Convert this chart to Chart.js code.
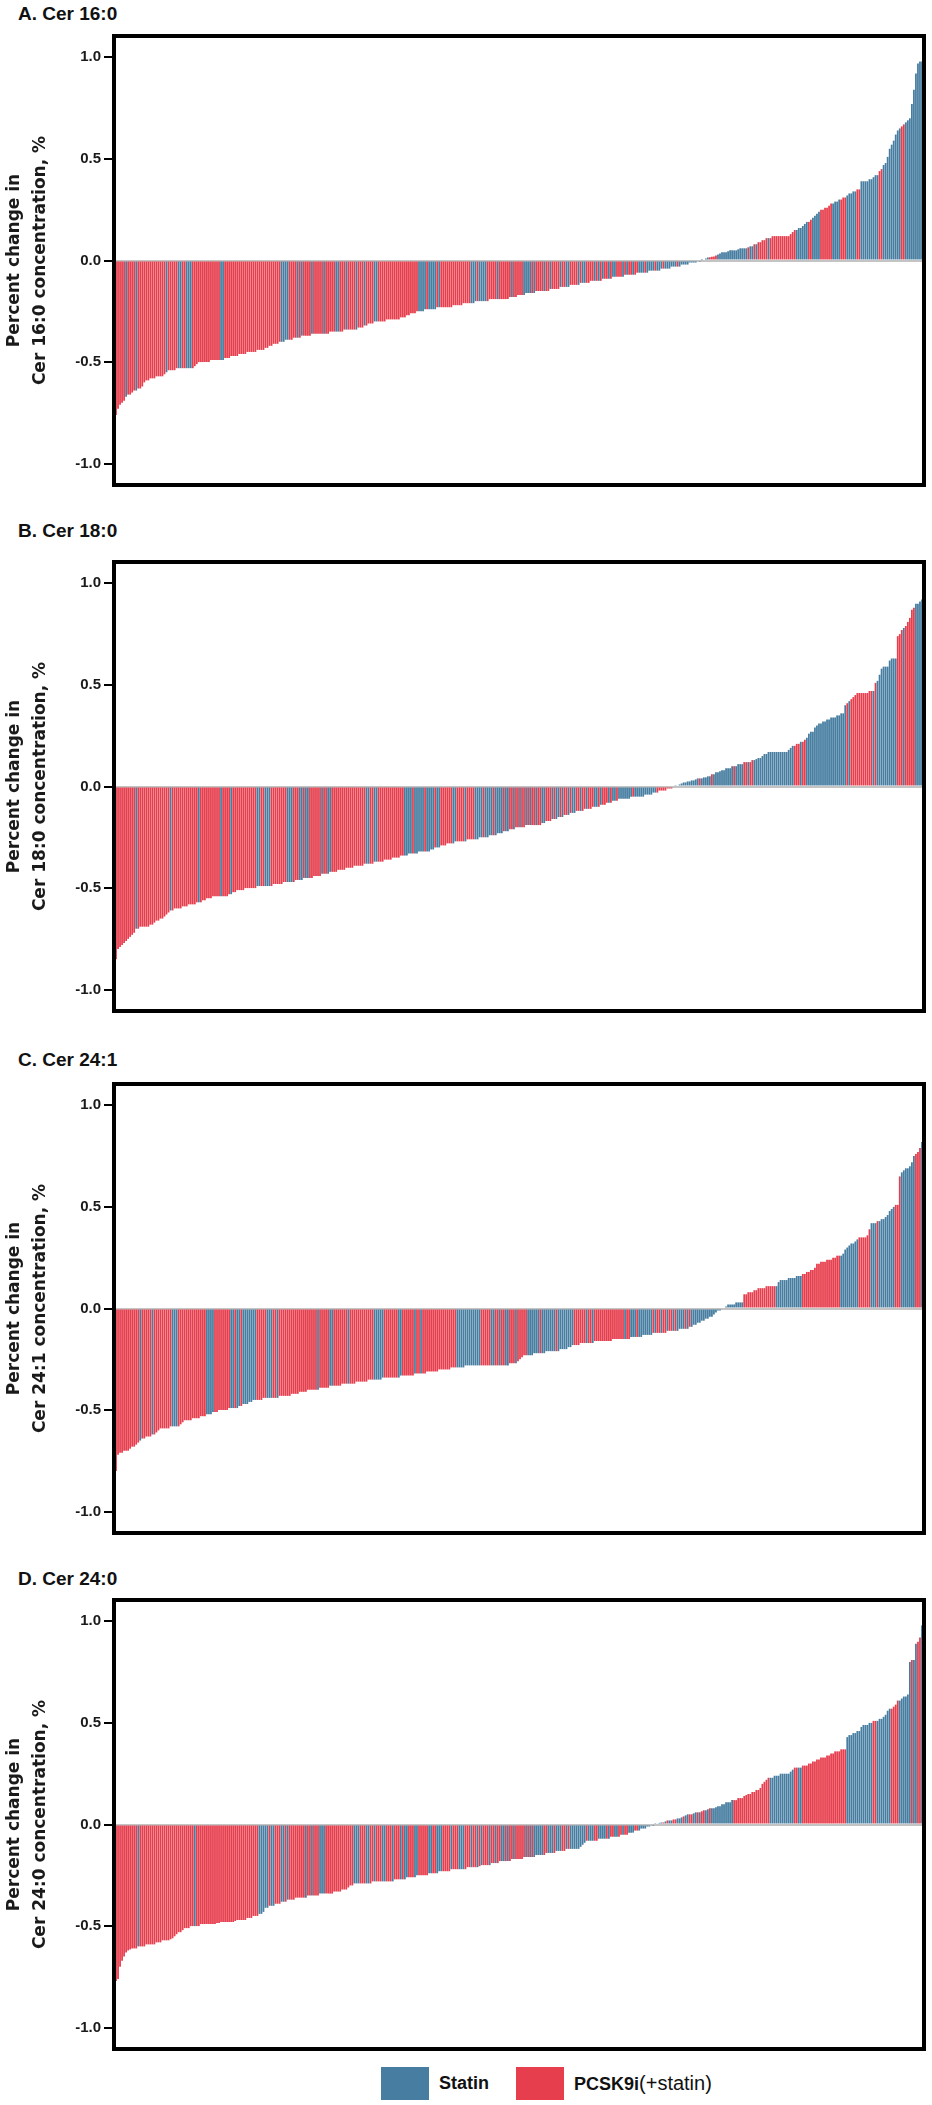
<!DOCTYPE html>
<html>
<head>
<meta charset="utf-8">
<title>Ceramide waterfall</title>
<script src="https://cdn.jsdelivr.net/npm/chart.js@4.4.1/dist/chart.umd.min.js"></script>
<style>
  body { margin: 0; background: #fff; }
  #page { position: relative; width: 932px; height: 2105px; overflow: hidden; }
  .panel { position: absolute; left: 0; width: 932px; height: 496px; }
  .ptitle { position: absolute; left: 18px; font: bold 19px "Liberation Sans", Arial, sans-serif; line-height: 22px; color: #111; }
  #legend { position: absolute; top: 2067px; left: 381px; height: 33px; display: flex; align-items: center; font-family: "Liberation Sans", Arial, sans-serif; color: #111; }
  #legend .sw { width: 48px; height: 33px; display: inline-block; }
  #legend .lab { margin-left: 10px; margin-right: 27px; font-weight: bold; font-size: 18px; }
  #legend .thin { font-weight: normal; font-size: 20px; }
</style>
</head>
<body>
<div id="page">
  <div class="ptitle" style="top:3px">A. Cer 16:0</div>
  <div class="panel" style="top:0px"><canvas id="chartA" width="932" height="496"></canvas></div>
  <div class="ptitle" style="top:520px">B. Cer 18:0</div>
  <div class="panel" style="top:526px"><canvas id="chartB" width="932" height="496"></canvas></div>
  <div class="ptitle" style="top:1049px">C. Cer 24:1</div>
  <div class="panel" style="top:1048px"><canvas id="chartC" width="932" height="496"></canvas></div>
  <div class="ptitle" style="top:1568px">D. Cer 24:0</div>
  <div class="panel" style="top:1564px"><canvas id="chartD" width="932" height="496"></canvas></div>
  <div id="legend">
    <span class="sw" style="background:#467da0"></span><span class="lab">Statin</span>
    <span class="sw" style="background:#e63e4d"></span><span class="lab">PCSK9i<span class="thin">(+statin)</span></span>
  </div>
</div>
<script>
// tick labels on the y axis
const yTicks = [-1.0, -0.5, 0.0, 0.5, 1.0];

// sorted per-patient change, one bar each
const cer160 = [
  -0.76,-0.73,-0.71,-0.70,-0.69,-0.67,-0.66,-0.66,-0.65,-0.64,-0.64,-0.63,-0.63,-0.62,-0.60,-0.59,-0.59,-0.58,-0.58,-0.58,
  -0.57,-0.57,-0.57,-0.57,-0.56,-0.55,-0.54,-0.54,-0.54,-0.54,-0.53,-0.53,-0.53,-0.53,-0.53,-0.53,-0.53,-0.53,-0.53,-0.52,
  -0.51,-0.50,-0.50,-0.50,-0.50,-0.50,-0.50,-0.49,-0.49,-0.49,-0.49,-0.49,-0.49,-0.49,-0.48,-0.48,-0.48,-0.47,-0.47,-0.47,
  -0.47,-0.46,-0.46,-0.46,-0.46,-0.45,-0.45,-0.45,-0.45,-0.45,-0.44,-0.44,-0.44,-0.44,-0.43,-0.43,-0.42,-0.42,-0.41,-0.41,
  -0.41,-0.40,-0.40,-0.40,-0.39,-0.39,-0.39,-0.39,-0.38,-0.38,-0.38,-0.38,-0.37,-0.37,-0.37,-0.37,-0.37,-0.36,-0.36,-0.36,
  -0.36,-0.36,-0.36,-0.36,-0.36,-0.36,-0.35,-0.35,-0.35,-0.35,-0.35,-0.35,-0.35,-0.34,-0.34,-0.34,-0.34,-0.34,-0.34,-0.34,
  -0.33,-0.33,-0.33,-0.32,-0.32,-0.31,-0.31,-0.31,-0.30,-0.30,-0.30,-0.30,-0.30,-0.30,-0.29,-0.29,-0.29,-0.29,-0.29,-0.29,
  -0.29,-0.28,-0.28,-0.28,-0.27,-0.27,-0.26,-0.26,-0.26,-0.25,-0.25,-0.25,-0.25,-0.24,-0.24,-0.24,-0.24,-0.24,-0.24,-0.23,
  -0.23,-0.23,-0.23,-0.23,-0.23,-0.23,-0.23,-0.22,-0.22,-0.22,-0.22,-0.22,-0.21,-0.21,-0.21,-0.21,-0.21,-0.21,-0.20,-0.20,
  -0.20,-0.20,-0.20,-0.20,-0.20,-0.19,-0.19,-0.19,-0.19,-0.19,-0.19,-0.19,-0.19,-0.19,-0.19,-0.18,-0.18,-0.18,-0.18,-0.17,
  -0.17,-0.17,-0.17,-0.16,-0.16,-0.16,-0.16,-0.16,-0.15,-0.15,-0.15,-0.15,-0.15,-0.15,-0.15,-0.14,-0.14,-0.14,-0.14,-0.14,
  -0.13,-0.13,-0.13,-0.13,-0.13,-0.12,-0.12,-0.12,-0.12,-0.12,-0.11,-0.11,-0.11,-0.11,-0.11,-0.10,-0.10,-0.10,-0.10,-0.10,
  -0.10,-0.09,-0.09,-0.09,-0.09,-0.09,-0.08,-0.08,-0.08,-0.08,-0.08,-0.08,-0.07,-0.07,-0.07,-0.07,-0.07,-0.07,-0.06,-0.06,
  -0.06,-0.06,-0.06,-0.06,-0.05,-0.05,-0.05,-0.05,-0.05,-0.05,-0.04,-0.04,-0.04,-0.04,-0.04,-0.03,-0.03,-0.03,-0.03,-0.03,
  -0.02,-0.02,-0.02,-0.02,-0.01,-0.01,-0.01,-0.01,-0.005,-0.003,0.002,0.005,0.01,0.015,0.016,0.018,0.02,0.025,0.03,0.035,
  0.04,0.04,0.04,0.045,0.05,0.05,0.05,0.05,0.055,0.06,0.06,0.06,0.06,0.065,0.07,0.07,0.08,0.08,0.09,0.09,
  0.10,0.10,0.11,0.11,0.11,0.12,0.12,0.12,0.12,0.12,0.12,0.12,0.12,0.12,0.13,0.14,0.15,0.15,0.16,0.16,
  0.17,0.18,0.19,0.19,0.20,0.21,0.22,0.23,0.24,0.25,0.25,0.26,0.26,0.27,0.28,0.28,0.29,0.29,0.30,0.30,
  0.31,0.31,0.32,0.33,0.33,0.34,0.34,0.35,0.35,0.39,0.39,0.39,0.39,0.40,0.40,0.41,0.42,0.42,0.44,0.45,
  0.47,0.48,0.51,0.55,0.57,0.59,0.62,0.64,0.65,0.66,0.67,0.68,0.69,0.70,0.77,0.84,0.92,0.97,0.98,0.98
];
const cer180 = [
  -0.85,-0.80,-0.79,-0.78,-0.77,-0.76,-0.75,-0.74,-0.73,-0.72,-0.70,-0.70,-0.69,-0.69,-0.69,-0.69,-0.69,-0.68,-0.68,-0.67,
  -0.66,-0.66,-0.65,-0.65,-0.64,-0.63,-0.62,-0.61,-0.61,-0.60,-0.60,-0.60,-0.60,-0.59,-0.59,-0.59,-0.58,-0.58,-0.58,-0.58,
  -0.57,-0.57,-0.57,-0.56,-0.56,-0.55,-0.55,-0.55,-0.54,-0.54,-0.54,-0.54,-0.54,-0.54,-0.54,-0.54,-0.53,-0.53,-0.52,-0.52,
  -0.51,-0.51,-0.51,-0.51,-0.50,-0.50,-0.50,-0.50,-0.50,-0.50,-0.49,-0.49,-0.49,-0.49,-0.49,-0.49,-0.49,-0.49,-0.48,-0.48,
  -0.48,-0.48,-0.48,-0.47,-0.47,-0.47,-0.47,-0.47,-0.47,-0.46,-0.46,-0.46,-0.46,-0.45,-0.45,-0.45,-0.45,-0.45,-0.44,-0.44,
  -0.44,-0.44,-0.43,-0.43,-0.43,-0.43,-0.42,-0.42,-0.42,-0.42,-0.41,-0.41,-0.41,-0.41,-0.40,-0.40,-0.40,-0.40,-0.39,-0.39,
  -0.39,-0.39,-0.39,-0.38,-0.38,-0.38,-0.38,-0.38,-0.37,-0.37,-0.37,-0.37,-0.37,-0.36,-0.36,-0.36,-0.36,-0.35,-0.35,-0.35,
  -0.35,-0.34,-0.34,-0.34,-0.34,-0.33,-0.33,-0.33,-0.33,-0.33,-0.32,-0.32,-0.32,-0.32,-0.32,-0.32,-0.31,-0.31,-0.30,-0.30,
  -0.30,-0.29,-0.29,-0.29,-0.28,-0.28,-0.28,-0.28,-0.27,-0.27,-0.27,-0.27,-0.27,-0.27,-0.26,-0.26,-0.26,-0.26,-0.26,-0.26,
  -0.25,-0.25,-0.25,-0.25,-0.25,-0.24,-0.24,-0.24,-0.24,-0.23,-0.23,-0.23,-0.22,-0.22,-0.22,-0.21,-0.21,-0.21,-0.20,-0.20,
  -0.20,-0.20,-0.20,-0.19,-0.19,-0.19,-0.19,-0.19,-0.19,-0.19,-0.19,-0.18,-0.18,-0.17,-0.17,-0.17,-0.16,-0.16,-0.16,-0.15,
  -0.15,-0.15,-0.14,-0.14,-0.14,-0.13,-0.13,-0.13,-0.12,-0.12,-0.12,-0.12,-0.11,-0.11,-0.11,-0.11,-0.10,-0.10,-0.10,-0.10,
  -0.09,-0.09,-0.09,-0.08,-0.08,-0.08,-0.07,-0.07,-0.07,-0.06,-0.06,-0.06,-0.06,-0.06,-0.06,-0.05,-0.05,-0.05,-0.05,-0.05,
  -0.05,-0.05,-0.04,-0.04,-0.04,-0.04,-0.03,-0.03,-0.03,-0.02,-0.02,-0.02,-0.02,-0.01,-0.01,-0.01,-0.005,0.003,0.005,0.01,
  0.015,0.02,0.02,0.025,0.025,0.03,0.03,0.035,0.04,0.04,0.04,0.045,0.045,0.05,0.05,0.06,0.06,0.07,0.07,0.075,
  0.08,0.08,0.09,0.09,0.09,0.10,0.10,0.10,0.11,0.11,0.11,0.12,0.12,0.12,0.12,0.13,0.13,0.135,0.14,0.14,
  0.15,0.16,0.16,0.17,0.17,0.17,0.17,0.17,0.17,0.17,0.17,0.17,0.17,0.18,0.19,0.20,0.20,0.21,0.21,0.22,
  0.22,0.23,0.24,0.26,0.27,0.27,0.29,0.30,0.31,0.31,0.32,0.32,0.33,0.33,0.34,0.34,0.34,0.35,0.35,0.36,
  0.36,0.40,0.41,0.42,0.43,0.44,0.45,0.46,0.46,0.46,0.46,0.46,0.46,0.47,0.47,0.47,0.51,0.52,0.55,0.58,
  0.59,0.59,0.59,0.62,0.63,0.63,0.63,0.74,0.75,0.77,0.78,0.79,0.81,0.83,0.87,0.88,0.90,0.90,0.91,0.92
];
const cer241 = [
  -0.80,-0.72,-0.71,-0.71,-0.70,-0.70,-0.70,-0.69,-0.68,-0.68,-0.67,-0.66,-0.65,-0.64,-0.64,-0.63,-0.63,-0.63,-0.62,-0.62,
  -0.61,-0.60,-0.59,-0.59,-0.59,-0.59,-0.59,-0.58,-0.58,-0.58,-0.58,-0.58,-0.57,-0.56,-0.55,-0.55,-0.55,-0.55,-0.54,-0.54,
  -0.54,-0.54,-0.53,-0.53,-0.53,-0.52,-0.52,-0.52,-0.51,-0.51,-0.51,-0.50,-0.50,-0.50,-0.50,-0.50,-0.49,-0.49,-0.49,-0.49,
  -0.49,-0.48,-0.48,-0.47,-0.47,-0.47,-0.46,-0.46,-0.45,-0.45,-0.45,-0.45,-0.45,-0.44,-0.44,-0.44,-0.44,-0.44,-0.44,-0.44,
  -0.44,-0.43,-0.43,-0.43,-0.43,-0.43,-0.43,-0.42,-0.42,-0.42,-0.42,-0.41,-0.41,-0.41,-0.41,-0.40,-0.40,-0.40,-0.40,-0.40,
  -0.40,-0.39,-0.39,-0.39,-0.39,-0.39,-0.38,-0.38,-0.38,-0.38,-0.38,-0.38,-0.37,-0.37,-0.37,-0.37,-0.37,-0.37,-0.37,-0.36,
  -0.36,-0.36,-0.36,-0.36,-0.36,-0.35,-0.35,-0.35,-0.35,-0.35,-0.35,-0.35,-0.34,-0.34,-0.34,-0.34,-0.34,-0.34,-0.34,-0.34,
  -0.34,-0.33,-0.33,-0.33,-0.33,-0.33,-0.33,-0.33,-0.32,-0.32,-0.32,-0.32,-0.32,-0.32,-0.31,-0.31,-0.31,-0.31,-0.31,-0.31,
  -0.30,-0.30,-0.30,-0.30,-0.30,-0.30,-0.29,-0.29,-0.29,-0.29,-0.29,-0.29,-0.29,-0.28,-0.28,-0.28,-0.28,-0.28,-0.28,-0.28,
  -0.28,-0.28,-0.28,-0.28,-0.28,-0.28,-0.28,-0.28,-0.28,-0.28,-0.28,-0.28,-0.28,-0.28,-0.28,-0.27,-0.27,-0.27,-0.27,-0.26,
  -0.25,-0.24,-0.23,-0.23,-0.23,-0.23,-0.23,-0.22,-0.22,-0.22,-0.22,-0.22,-0.22,-0.21,-0.21,-0.21,-0.21,-0.21,-0.21,-0.21,
  -0.20,-0.20,-0.20,-0.20,-0.19,-0.19,-0.18,-0.18,-0.18,-0.18,-0.17,-0.17,-0.17,-0.17,-0.17,-0.17,-0.17,-0.16,-0.16,-0.16,
  -0.16,-0.16,-0.16,-0.16,-0.16,-0.16,-0.15,-0.15,-0.15,-0.15,-0.15,-0.15,-0.15,-0.15,-0.15,-0.14,-0.14,-0.14,-0.14,-0.14,
  -0.14,-0.13,-0.13,-0.13,-0.13,-0.13,-0.12,-0.12,-0.12,-0.12,-0.12,-0.12,-0.12,-0.11,-0.11,-0.11,-0.11,-0.11,-0.11,-0.10,
  -0.10,-0.10,-0.10,-0.10,-0.09,-0.09,-0.08,-0.08,-0.07,-0.07,-0.06,-0.06,-0.05,-0.05,-0.04,-0.04,-0.03,-0.02,-0.01,-0.01,
  -0.005,0.005,0.01,0.02,0.02,0.02,0.02,0.03,0.03,0.03,0.03,0.07,0.07,0.08,0.08,0.08,0.09,0.09,0.10,0.10,
  0.10,0.10,0.11,0.11,0.11,0.11,0.11,0.11,0.13,0.14,0.14,0.14,0.14,0.15,0.15,0.15,0.15,0.16,0.16,0.16,
  0.17,0.17,0.18,0.18,0.19,0.19,0.20,0.22,0.22,0.23,0.23,0.23,0.24,0.24,0.24,0.25,0.25,0.26,0.26,0.26,
  0.27,0.29,0.30,0.31,0.32,0.32,0.33,0.34,0.35,0.35,0.35,0.35,0.36,0.39,0.42,0.42,0.42,0.43,0.43,0.44,
  0.44,0.45,0.46,0.48,0.49,0.50,0.51,0.51,0.65,0.67,0.68,0.69,0.69,0.70,0.72,0.75,0.76,0.77,0.79,0.82
];
const cer240 = [
  -0.77,-0.76,-0.70,-0.67,-0.65,-0.63,-0.62,-0.615,-0.61,-0.61,-0.61,-0.60,-0.60,-0.60,-0.60,-0.59,-0.59,-0.59,-0.59,-0.59,
  -0.58,-0.58,-0.58,-0.57,-0.57,-0.57,-0.57,-0.565,-0.56,-0.55,-0.54,-0.53,-0.53,-0.52,-0.51,-0.51,-0.51,-0.50,-0.50,-0.50,
  -0.50,-0.50,-0.49,-0.49,-0.49,-0.49,-0.49,-0.49,-0.49,-0.49,-0.485,-0.485,-0.48,-0.48,-0.48,-0.48,-0.48,-0.48,-0.48,-0.475,
  -0.47,-0.47,-0.47,-0.47,-0.47,-0.46,-0.46,-0.46,-0.45,-0.45,-0.45,-0.44,-0.44,-0.43,-0.41,-0.41,-0.40,-0.40,-0.40,-0.39,
  -0.39,-0.39,-0.38,-0.38,-0.38,-0.37,-0.37,-0.37,-0.37,-0.36,-0.36,-0.36,-0.36,-0.36,-0.36,-0.35,-0.35,-0.35,-0.35,-0.35,
  -0.35,-0.34,-0.34,-0.34,-0.34,-0.34,-0.34,-0.34,-0.33,-0.33,-0.33,-0.33,-0.32,-0.32,-0.32,-0.31,-0.30,-0.30,-0.29,-0.29,
  -0.29,-0.29,-0.29,-0.29,-0.29,-0.29,-0.29,-0.28,-0.28,-0.28,-0.28,-0.28,-0.28,-0.28,-0.28,-0.28,-0.28,-0.28,-0.27,-0.27,
  -0.27,-0.27,-0.27,-0.27,-0.26,-0.26,-0.26,-0.26,-0.26,-0.25,-0.25,-0.25,-0.25,-0.25,-0.25,-0.24,-0.24,-0.24,-0.24,-0.24,
  -0.23,-0.23,-0.23,-0.23,-0.23,-0.23,-0.22,-0.22,-0.22,-0.22,-0.22,-0.22,-0.22,-0.22,-0.21,-0.21,-0.21,-0.21,-0.21,-0.21,
  -0.205,-0.20,-0.20,-0.20,-0.20,-0.20,-0.19,-0.19,-0.19,-0.19,-0.18,-0.18,-0.18,-0.18,-0.18,-0.18,-0.17,-0.17,-0.17,-0.17,
  -0.17,-0.17,-0.16,-0.16,-0.16,-0.16,-0.16,-0.16,-0.15,-0.15,-0.15,-0.15,-0.15,-0.14,-0.14,-0.14,-0.14,-0.14,-0.13,-0.13,
  -0.13,-0.13,-0.13,-0.12,-0.12,-0.12,-0.12,-0.12,-0.12,-0.12,-0.11,-0.10,-0.09,-0.08,-0.08,-0.08,-0.08,-0.08,-0.08,-0.07,
  -0.07,-0.07,-0.07,-0.07,-0.07,-0.06,-0.06,-0.06,-0.06,-0.06,-0.05,-0.05,-0.05,-0.05,-0.04,-0.04,-0.04,-0.03,-0.03,-0.03,
  -0.02,-0.02,-0.02,-0.01,-0.01,-0.005,-0.002,0.003,0.005,0.008,0.01,0.01,0.015,0.02,0.02,0.02,0.025,0.025,0.03,0.03,
  0.035,0.04,0.045,0.05,0.05,0.05,0.055,0.06,0.06,0.06,0.065,0.07,0.07,0.075,0.08,0.08,0.08,0.085,0.09,0.09,
  0.10,0.10,0.11,0.11,0.11,0.12,0.12,0.12,0.13,0.13,0.13,0.14,0.145,0.15,0.15,0.16,0.16,0.17,0.17,0.18,
  0.20,0.21,0.22,0.23,0.23,0.23,0.24,0.24,0.24,0.25,0.25,0.25,0.25,0.25,0.26,0.27,0.28,0.28,0.28,0.28,
  0.29,0.29,0.29,0.30,0.30,0.31,0.31,0.32,0.32,0.33,0.33,0.33,0.34,0.34,0.35,0.35,0.36,0.36,0.36,0.37,
  0.37,0.37,0.43,0.44,0.44,0.45,0.45,0.46,0.46,0.48,0.49,0.49,0.49,0.50,0.50,0.51,0.51,0.51,0.52,0.52,
  0.53,0.54,0.56,0.57,0.57,0.58,0.59,0.61,0.61,0.62,0.63,0.63,0.64,0.80,0.81,0.81,0.89,0.90,0.92,0.98
];

// treatment of each bar: S = statin, P = PCSK9i (+statin)
const arm160 = [
  "PPPPPSPPPPSPPPPPPPPP","PPPPPSPPPPPSSPPSSSPP","PPPPPPPPPPPPSSPPPPPP","PPPPPPPPPPPPPPPPPPPP",
  "PPSSSSPPPPSPSPPPPSPP","PPPSPPPPPSSPPPSPPPPS","PPPSPPPPSSPPPPPPPPPP","PPPPPPPPPPSSSSPSSSSP",
  "SPPPPPPPPPPPPPPPSSSP","SSSSPPPPPSPPPPPPSPPP","PPSSSSPSPPPPSPPSPPPP","SPPSSPPPPSPSSPPPPSPS",
  "PSPPSPSSPPPSPSPPSPPS","SSPSSSSPSSSPSSSSSSPS","SSSSSSSSSSSSSSPPPPSS","SSSSSSSSSSSSSPSSPSPP",
  "PPPSPPPPPPPPPPPPPSSS","SSSPPSSSSPPPPPPSSSSP","PPSSSSSPPSSSSSSSSSPP","SSSSSSSSSPPSSSSSSSSS"
].join("");
const arm180 = [
  "PPPPPPPPPPSPPPPPPPPP","PPPPPPPSPPPPPPPPPPPP","PSPPPPPPPPPPSPPPPSPP","PPPPPPPPPPSSPPSSSPPP",
  "PPPPPSSSPPPSSPSSPPPP","PPSPPSSPPPPPPPPPPPPP","PPPPSSPPSSPPPPPPPPPP","PPPSSSSPSSSSSPSSSSPS",
  "SPPPPPPSSPPPPSPPPPSS","SSPSSSSPSSSSPSSPPSPP","SPPSPSPPSPPSSPPPSPSS","PSPPSPSSPPSPPSPPPSSP",
  "SPPPSPSSPSSSSSSSPSSS","SSSSSSSSPPPPPPPPPSSS","SSSSSSSSSPSSSSSPSSSS","SSSSSSPSSSSPPSPPSSSS",
  "SSSSSSSSSSSSSSSSPPPS","PPSSSSSSSSSSSSSSSSSS","SSPSPPPPPPPPPPPSPSSS","SSSSSSSPPPSPPPPPSSSS"
].join("");
const arm241 = [
  "PPPPPPPPPPPPSPPPPPSP","PPPPPPPPSSSPPPPPPPPP","PPPPPSSSSPPPPPPPPSSP","SSPSSSSSSSPPPPPSSSPP",
  "SPPPPPPPPPPPPPPPPPPP","SPPPPPSSPPPPPPPSPPPP","PPPPPPPPSSSSSPPPPPPP","SSPPPPPPSPPSPPPPPPPP",
  "PPPPPPPPPSSSSSSSSSSS","SPPPPPSSPPSPPSSPPPSP","PPPPSSSSSSPSSSSSSSPS","SSSSSSSPPPPPPSPPSPPP",
  "PPPPPPPPPPPPSPPSSSPS","SSSSSSPSPPSPPSPPSPSS","SSPSPSSSSSSSSSSSSSSS","SSSSSSSSSSSPPPPPPPPP",
  "PPPPPPPSSSSSSSSSSSSS","PPPPPPPPPPPPPPPPPPPS","SSSSSSSSPPPPPPSSSPSS","SSSSSSPPPSSSSSSSPPPS"
].join("");
const arm240 = [
  "PPPPPPPPPPPSPPPPPPPP","PPPPPPPPPPPPPPPPPPPS","PPPPPPPPPPPPPPPPPPPP","PPPPPPPPPPPSSSSSPSSP",
  "PPSSPSPPPPPPPPSPPSPP","PSSSPPPPPPPPPPPPPPSS","SPPPSSPPSPPPSSPPPSPP","PSPSSPPPSSPPPPPSSPPS",
  "SSPPPPSPPPSSSPPPSPPS","PSPPPSPPSPPSSPSPPSPP","PPPSPSPSSSSSPPSSSPSS","SPPSPSSSSSSSSPSSSPPS",
  "SSSPSPPSSPPSPPSSSPPS","SSSSSSSSPSSPSPSSPPSS","SPSSPPSSPSPPSSPSSSSS","SSSSSSPPPPPPPPPPPPPP",
  "PPPPSSSSSSSSSSSSPPSS","PPPPPPPPPPPPPPPPPPPP","PPSSSSSSSSSSSSSPPSSS","SSSSPPPPSSSSSSPSSPPS"
].join("");

const statinColor = '#467da0';
const pcskColor = '#e63e4d';

// thick black box round the plot area
const framePlugin = {
  id: 'frame',
  afterDraw(chart) {
    const a = chart.chartArea;
    const ctx = chart.ctx;
    ctx.save();
    ctx.strokeStyle = '#000';
    ctx.lineWidth = 4;
    ctx.strokeRect(a.left - 1, a.top - 1, a.right - a.left + 2, a.bottom - a.top + 2);
    ctx.restore();
  }
};

function drawPanel(id, lipid, values, arms) {
  const colors = values.map(function (v, i) {
    return arms[i] === 'S' ? statinColor : pcskColor;
  });
  new Chart(document.getElementById(id), {
    type: 'bar',
    data: {
      labels: values.map(function (v, i) { return i + 1; }),
      datasets: [{
        data: values,
        backgroundColor: colors,
        borderWidth: 0,
        barPercentage: 0.88,
        categoryPercentage: 1
      }]
    },
    options: {
      responsive: false,
      animation: false,
      events: [],
      layout: { padding: { top: 37, right: 9, bottom: 12, left: 0 } },
      plugins: { legend: { display: false }, tooltip: { enabled: false } },
      scales: {
        x: { display: false },
        y: {
          min: -1.1,
          max: 1.1,
          afterBuildTicks: function (axis) {
            axis.ticks = yTicks.map(function (v) { return { value: v }; });
          },
          afterFit: function (axis) { axis.width = 115; },
          border: { display: false },
          grid: {
            color: function (c) { return c.tick && c.tick.value === 0 ? '#c4c4c4' : 'rgba(0,0,0,0)'; },
            lineWidth: 2,
            tickLength: 11,
            tickColor: '#000',
            tickWidth: 2
          },
          ticks: {
            padding: 3,
            color: '#1a1a1a',
            font: { family: '"Liberation Sans", Arial, sans-serif', size: 15, weight: 'bold' },
            callback: function (v) { return Number(v).toFixed(1); }
          },
          title: {
            display: true,
            text: ['Percent change in', lipid + ' concentration, %'],
            color: '#1a1a1a',
            font: { family: '"DejaVu Sans", Verdana, sans-serif', size: 17, weight: 'bold', lineHeight: 1.5 },
            padding: { top: 2, bottom: 0 }
          }
        }
      }
    },
    plugins: [framePlugin]
  });
}

drawPanel('chartA', 'Cer 16:0', cer160, arm160);
drawPanel('chartB', 'Cer 18:0', cer180, arm180);
drawPanel('chartC', 'Cer 24:1', cer241, arm241);
drawPanel('chartD', 'Cer 24:0', cer240, arm240);
</script>
</body>
</html>
